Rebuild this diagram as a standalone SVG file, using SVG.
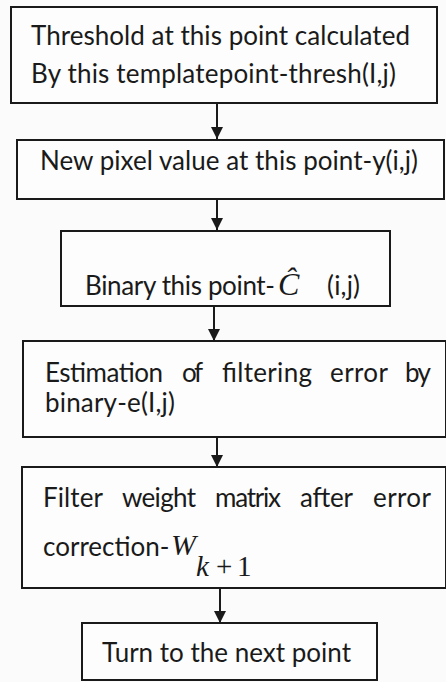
<svg xmlns="http://www.w3.org/2000/svg" width="446" height="682" viewBox="0 0 446 682">
<style>
.box{fill:#fdfdfd;stroke:#1a1a1a;stroke-width:2}
.t{font-family:Lato,"Open Sans","Liberation Sans",sans-serif;font-size:26px;fill:#1a1a1a}
.m{font-family:"Liberation Serif","DejaVu Serif",serif;font-style:italic;fill:#1a1a1a}
.mu{font-family:"Liberation Serif","DejaVu Serif",serif;fill:#1a1a1a}
.c{stroke:#1a1a1a;stroke-width:2;fill:none}
</style>
<defs>
<marker id="ah" viewBox="0 0 10 10" refX="10" refY="5" markerWidth="6" markerHeight="6" orient="auto" markerUnits="strokeWidth">
<path d="M0,0 L10,5 L0,10 z" fill="#1a1a1a"/>
</marker>
</defs>
<rect width="446" height="682" fill="#fbfbfb"/>
<g id="connectors">
<line class="c" x1="217" y1="104" x2="217" y2="139" marker-end="url(#ah)"/>
<line class="c" x1="217" y1="200" x2="217" y2="230" marker-end="url(#ah)"/>
<line class="c" x1="214" y1="307" x2="214" y2="341" marker-end="url(#ah)"/>
<line class="c" x1="217" y1="438" x2="217" y2="467" marker-end="url(#ah)"/>
<line class="c" x1="220" y1="589" x2="220" y2="623" marker-end="url(#ah)"/>
</g>
<g id="node1">
<rect class="box" x="11" y="7" width="426" height="96"/>
<text class="t" x="31" y="45" textLength="379">Threshold at this point calculated</text>
<text class="t" x="31" y="83" textLength="365">By this templatepoint-thresh(I,j)</text>
</g>
<g id="node2">
<rect class="box" x="17" y="140" width="427" height="59"/>
<text class="t" x="40" y="170" textLength="378">New pixel value at this point-y(i,j)</text>
</g>
<g id="node3">
<rect class="box" x="61" y="231" width="329" height="75"/>
<text class="t" x="85" y="295" textLength="190">Binary this point-</text>
<text class="m" x="278" y="295" font-size="32">Ĉ</text>
<text class="t" x="327" y="295" textLength="33">(i,j)</text>
</g>
<g id="node4">
<rect class="box" x="23" y="341" width="423" height="96"/>
<text class="t" x="45" y="382" textLength="118">Estimation</text>
<text class="t" x="182" y="382" textLength="21">of</text>
<text class="t" x="222" y="382" textLength="90">filtering</text>
<text class="t" x="330" y="382" textLength="58">error</text>
<text class="t" x="405" y="382" textLength="26">by</text>
<text class="t" x="45" y="412" textLength="130">binary-e(I,j)</text>
</g>
<g id="node5">
<rect class="box" x="22" y="467" width="424" height="121"/>
<text class="t" x="43" y="507" textLength="60">Filter</text>
<text class="t" x="122" y="507" textLength="74">weight</text>
<text class="t" x="215" y="507" textLength="66">matrix</text>
<text class="t" x="300" y="507" textLength="53">after</text>
<text class="t" x="373" y="507" textLength="58">error</text>
<text class="t" x="43" y="556">correction-</text>
<text class="m" x="171" y="555" font-size="30">W</text>
<text class="m" x="196" y="576" font-size="29">k</text>
<text class="mu" x="216" y="576" font-size="29">+</text>
<text class="mu" x="237" y="576" font-size="29">1</text>
</g>
<g id="node6">
<rect class="box" x="82" y="623" width="295" height="57"/>
<text class="t" x="102" y="662" textLength="249">Turn to the next point</text>
</g>
</svg>
